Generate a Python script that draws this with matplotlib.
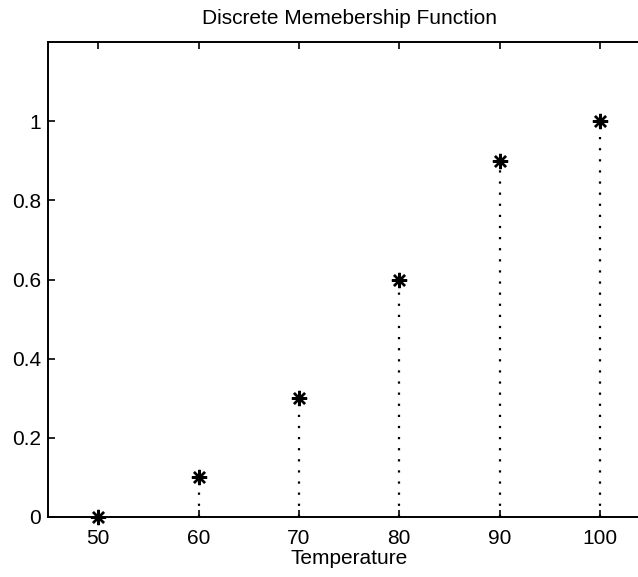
import numpy as np
import matplotlib.pyplot as plt

plt.rcParams['font.family'] = ['Liberation Sans', 'DejaVu Sans']

# datos del grafico
temperature = [50, 60, 70, 80, 90, 100]
membership = [0, 0.1, 0.3, 0.6, 0.9, 1.0]
xticks = [50, 60, 70, 80, 90, 100]
yticks = [0, 0.2, 0.4, 0.6, 0.8, 1]
ytick_labels = ['0', '0.2', '0.4', '0.6', '0.8', '1']

fig = plt.figure(figsize=(6.38, 5.77), dpi=100)
# el eje derecho queda recortado en la imagen original
ax = fig.add_axes([48 / 638, 60 / 577, 602 / 638, 475 / 577])

# tallos punteados
ax.vlines(temperature, 0, membership, colors='black', linestyles=(0, (1, 4)), linewidth=1.6)
# marcadores tipo asterisco
ax.plot(temperature, membership, linestyle='none', marker=(8, 2, 0),
        markersize=11, markeredgewidth=1.7, color='black', clip_on=False)

ax.set_xlim(45, 105)
ax.set_ylim(0, 1.2)
ax.set_xticks(xticks)
ax.set_yticks(yticks)
ax.set_yticklabels(ytick_labels)

ax.tick_params(direction='in', top=True, right=True, length=5, width=1.2,
               labelsize=15)
ax.tick_params(axis='x', pad=9)
ax.tick_params(axis='y', pad=5)
for s in ax.spines.values():
    s.set_linewidth(1.4)

ax.set_xlabel('Temperature', fontsize=15, labelpad=0)
ax.set_title('Discrete Memebership Function', fontsize=15, pad=13)

fig.savefig('out.png', dpi=100)
